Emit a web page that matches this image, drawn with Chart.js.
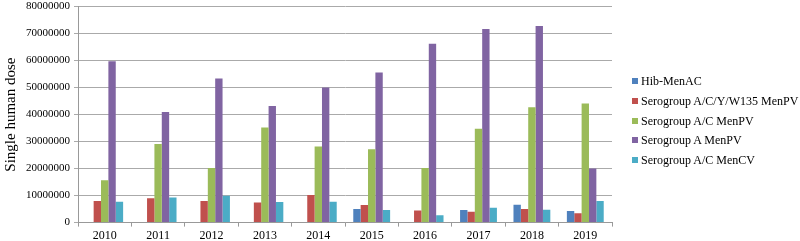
<!DOCTYPE html>
<html>
<head>
<meta charset="utf-8">
<script src="https://cdn.jsdelivr.net/npm/chart.js@4/dist/chart.umd.min.js"></script>
<style>
  html, body { margin: 0; padding: 0; background: #fff; overflow: hidden; }
  #wrap { position: relative; width: 800px; height: 241px; overflow: hidden; }
  #box { position: absolute; left: 0; top: -4px; width: 800px; height: 245px; }
  #legend { position: absolute; left: 632px; top: 72px; font: 12px 'Liberation Serif', 'Times New Roman', serif; color: #000; }
  #legend div { height: 19.8px; line-height: 19.8px; white-space: nowrap; }
  #legend span { display: inline-block; width: 6px; height: 6px; margin-right: 3px; vertical-align: 1px; }
</style>
</head>
<body>
<div id="wrap"><div id="box"><canvas id="chart"></canvas></div><div id="legend"></div></div>
<script>
// years and doses
const years = ['2010', '2011', '2012', '2013', '2014', '2015', '2016', '2017', '2018', '2019'];
const hibMenAC = [0, 0, 0, 0, 200000, 5000000, 0, 4700000, 6600000, 4300000];
const menPV4 = [8000000, 9000000, 8000000, 7400000, 10200000, 6500000, 4500000, 4000000, 5000000, 3500000];
const menPVAC = [15700000, 29100000, 20200000, 35200000, 28200000, 27200000, 20200000, 34800000, 42700000, 44100000];
const menPVA = [59800000, 41000000, 53400000, 43200000, 50000000, 55600000, 66200000, 71700000, 72800000, 20000000];
const menCVAC = [7700000, 9300000, 9900000, 7600000, 7700000, 4700000, 2700000, 5500000, 4800000, 8000000];

const seriesNames = ['Hib-MenAC', 'Serogroup A/C/Y/W135 MenPV', 'Serogroup A/C MenPV', 'Serogroup A MenPV', 'Serogroup A/C MenCV'];
const seriesColors = ['#4F81BD', '#C0504D', '#9BBB59', '#8064A2', '#4BACC6'];
const seriesValues = [hibMenAC, menPV4, menPVAC, menPVA, menCVAC];

const serif = 'Liberation Serif, Times New Roman, serif';

// legend drawn as html so it sits where the original one is
const legendEl = document.getElementById('legend');
seriesNames.forEach((name, i) => {
  const row = document.createElement('div');
  const box = document.createElement('span');
  box.style.background = seriesColors[i];
  row.appendChild(box);
  row.appendChild(document.createTextNode(name));
  legendEl.appendChild(row);
});

new Chart(document.getElementById('chart'), {
  type: 'bar',
  data: {
    labels: years,
    datasets: seriesNames.map((name, i) => ({
      label: name,
      data: seriesValues[i],
      backgroundColor: seriesColors[i],
      borderWidth: 0,
      categoryPercentage: 0.69,
      barPercentage: 1.0,
    })),
  },
  options: {
    responsive: true,
    maintainAspectRatio: false,
    animation: false,
    layout: { padding: { top: 0, right: 188, bottom: -4, left: 0 } },
    plugins: {
      tooltip: { enabled: false },
      legend: { display: false },
    },
    scales: {
      x: {
        grid: { offset: true, drawOnChartArea: false, color: '#999', tickLength: 4 },
        border: { color: '#999' },
        ticks: { color: '#000', font: { family: serif, size: 12 }, padding: 2 },
      },
      y: {
        min: 0,
        max: 80000000,
        grid: { color: '#aaa', tickLength: 4 },
        border: { color: '#999' },
        ticks: {
          stepSize: 10000000,
          color: '#000',
          font: { family: serif, size: 11 },
          padding: 4,
          callback: v => String(v),
        },
        title: {
          display: true,
          text: 'Single human dose',
          color: '#000',
          font: { family: serif, size: 15 },
          padding: 2,
        },
      },
    },
  },
});
</script>
</body>
</html>
